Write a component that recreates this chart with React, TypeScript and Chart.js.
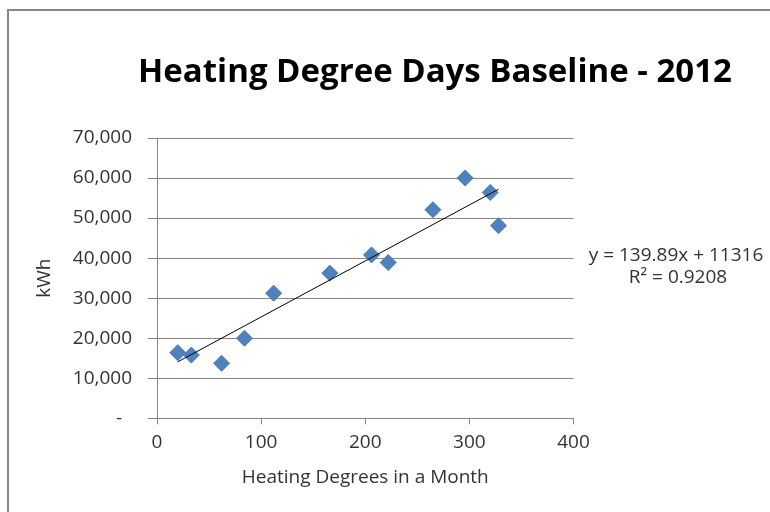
import React, { useEffect, useRef } from "react";
import { Chart, registerables } from "chart.js";

Chart.register(...registerables);

// ---- data ----
const heatingDegrees = [20, 33, 62, 84, 112, 166, 206, 222, 265, 296, 320, 328];
const kwhValues = [16400, 15800, 13750, 20000, 31250, 36250, 40800, 38900, 52100, 60000, 56400, 48100];
const trendSlope = 139.89;
const trendIntercept = 11316;
const rSquared = 0.9208;
const titleText = "Heating Degree Days Baseline - 2012";
const xAxisTitle = "Heating Degrees in a Month";
const yAxisTitle = "kWh";
const equationLines = [`y = ${trendSlope}x + ${trendIntercept}`, `R² = ${rSquared}`];

const FONT = "'Open Sans', 'DejaVu Sans', sans-serif";
const GRID = "#868686";
const TEXT = "#333333";

const decorPlugin = {
  id: "decor",
  beforeDraw(chart: any) {
    const ctx = chart.ctx;
    ctx.save();
    ctx.strokeStyle = GRID;
    ctx.lineWidth = 2;
    ctx.beginPath();
    ctx.moveTo(8, 512);
    ctx.lineTo(8, 10);
    ctx.lineTo(770, 10);
    ctx.stroke();
    ctx.restore();
  },
  afterDraw(chart: any) {
    const ctx = chart.ctx;
    ctx.save();
    ctx.fillStyle = "#000";
    ctx.font = `bold 33px ${FONT}`;
    ctx.textAlign = "center";
    ctx.textBaseline = "middle";
    ctx.fillText(titleText, 435, 73);
    ctx.fillStyle = TEXT;
    ctx.font = `19px ${FONT}`;
    ctx.fillText(equationLines[0], 676, 256);
    ctx.fillText(equationLines[1], 678, 278);
    ctx.restore();
  },
};

export default function App() {
  const ref = useRef<HTMLCanvasElement | null>(null);
  useEffect(() => {
    if (!ref.current) return;
    const xMin = Math.min(...heatingDegrees);
    const xMax = Math.max(...heatingDegrees);
    const chart = new Chart(ref.current, {
      type: "scatter",
      data: {
        datasets: [
          {
            label: "kWh",
            data: heatingDegrees.map((x, i) => ({ x, y: kwhValues[i] })),
            pointStyle: "rectRot",
            pointRadius: 8,
            backgroundColor: "#4F81BD",
            borderColor: "#4A7BB5",
            borderWidth: 1,
            order: 2,
          },
          {
            type: "line",
            label: "Linear",
            data: [
              { x: xMin, y: trendSlope * xMin + trendIntercept },
              { x: xMax, y: trendSlope * xMax + trendIntercept },
            ],
            borderColor: "#000",
            borderWidth: 1,
            pointRadius: 0,
            fill: false,
            order: 1,
          } as any,
        ],
      },
      options: {
        responsive: false,
        animation: false,
        layout: { padding: { top: 138, right: 196.5, left: 0, bottom: 0 } },
        plugins: {
          legend: { display: false },
          tooltip: { enabled: false },
          title: { display: false },
        },
        scales: {
          x: {
            type: "linear",
            min: 0,
            max: 400,
            ticks: { stepSize: 100, color: TEXT, font: { family: FONT, size: 19 }, padding: 7 },
            grid: { drawOnChartArea: false, drawTicks: true, tickLength: 6, color: GRID },
            border: { display: true, color: GRID },
            title: {
              display: true,
              text: xAxisTitle,
              color: TEXT,
              font: { family: FONT, size: 19 },
              padding: { top: 0, bottom: 23 },
            },
            afterFit: (s: any) => {
              s.height = 93.7;
            },
          },
          y: {
            type: "linear",
            min: 0,
            max: 70000,
            ticks: {
              stepSize: 10000,
              color: TEXT,
              font: { family: FONT, size: 19 },
              padding: 16,
              callback: (v: any) => (v === 0 ? "-  " : Number(v).toLocaleString("en-US")),
            },
            grid: { color: GRID, drawTicks: true, tickLength: 9 },
            border: { display: true, color: GRID },
            title: {
              display: true,
              text: yAxisTitle,
              color: TEXT,
              font: { family: FONT, size: 19 },
              padding: { top: 33, bottom: 0 },
            },
            afterFit: (s: any) => {
              s.width = 157;
            },
          },
        },
      },
      plugins: [decorPlugin],
    });
    return () => chart.destroy();
  }, []);
  return (
    <div style={{ position: "absolute", left: 0, top: 0, width: 770, height: 512 }}>
      <canvas ref={ref} width={770} height={512} style={{ display: "block" }} />
    </div>
  );
}
